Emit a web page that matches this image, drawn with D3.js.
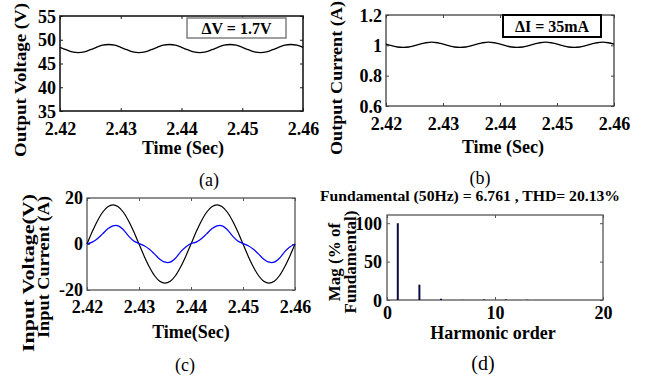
<!DOCTYPE html>
<html>
<head>
<meta charset="utf-8">
<script src="https://cdn.jsdelivr.net/npm/d3@7"></script>
<style>
  body { margin: 0; background: #fff; }
  svg { display: block; font-family: "Liberation Serif", "Times New Roman", serif; }
  svg text { font-family: "Liberation Serif", "Times New Roman", serif !important; }
</style>
</head>
<body>
<script>
// sample instants (s)
const sampleTimes = [
  2.420, 2.421, 2.422, 2.423, 2.424, 2.425, 2.426, 2.427, 2.428, 2.429,
  2.430, 2.431, 2.432, 2.433, 2.434, 2.435, 2.436, 2.437, 2.438, 2.439,
  2.440, 2.441, 2.442, 2.443, 2.444, 2.445, 2.446, 2.447, 2.448, 2.449,
  2.450, 2.451, 2.452, 2.453, 2.454, 2.455, 2.456, 2.457, 2.458, 2.459,
  2.460,
];

// (a) output voltage, V
const outputVoltage = [
  48.4, 47.9, 47.45, 47.3, 47.45, 47.9, 48.4, 48.85, 49.0, 48.85,
  48.4, 47.9, 47.45, 47.3, 47.45, 47.9, 48.4, 48.85, 49.0, 48.85,
  48.4, 47.9, 47.45, 47.3, 47.45, 47.9, 48.4, 48.85, 49.0, 48.85,
  48.4, 47.9, 47.45, 47.3, 47.45, 47.9, 48.4, 48.85, 49.0, 48.85,
  48.4,
];

// (b) output current, A
const outputCurrent = [
  1.008, 0.998, 0.989, 0.986, 0.989, 0.998, 1.008, 1.017, 1.021, 1.017,
  1.008, 0.998, 0.989, 0.986, 0.989, 0.998, 1.008, 1.017, 1.021, 1.017,
  1.008, 0.998, 0.989, 0.986, 0.989, 0.998, 1.008, 1.017, 1.021, 1.017,
  1.008, 0.998, 0.989, 0.986, 0.989, 0.998, 1.008, 1.017, 1.021, 1.017,
  1.008,
];

// (c) input voltage (black) and input current (blue)
const inputVoltage = [
  0, 5.3, 10.0, 13.8, 16.2, 17.0, 16.2, 13.8, 10.0, 5.3,
  0, -5.3, -10.0, -13.8, -16.2, -17.0, -16.2, -13.8, -10.0, -5.3,
  0, 5.3, 10.0, 13.8, 16.2, 17.0, 16.2, 13.8, 10.0, 5.3,
  0, -5.3, -10.0, -13.8, -16.2, -17.0, -16.2, -13.8, -10.0, -5.3,
  0,
];
const inputCurrent = [
  0, 0.8, 2.3, 4.4, 6.6, 7.9, 7.9, 6.2, 3.4, 1.3,
  0.2, -0.8, -2.3, -4.4, -6.6, -7.9, -7.9, -6.2, -3.4, -1.3,
  0.2, 0.8, 2.3, 4.4, 6.6, 7.9, 7.9, 6.2, 3.4, 1.3,
  0.2, -0.8, -2.3, -4.4, -6.6, -7.9, -7.9, -6.2, -3.4, -1.3,
  0,
];

// (d) harmonic spectrum, % of fundamental
const harmonicOrders = [1, 3, 5, 7, 9, 11, 13];
const harmonicMags = [100, 20, 1.5, 0.3, 0.8, 0.8, 0.4];

const timeTicks = [2.42, 2.43, 2.44, 2.45, 2.46];
const voltageTicks = [35, 40, 45, 50, 55];
const currentTicks = [0.6, 0.8, 1, 1.2];
const inputTicks = [-20, 0, 20];
const orderTicks = [0, 10, 20];
const magTicks = [0, 50, 100];

const width = 646;
const height = 378;
const fontBold = 18;
const serif = '"Liberation Serif", "Times New Roman", serif';

const svg = d3.select('body').append('svg')
  .attr('width', width)
  .attr('height', height)
  .attr('viewBox', [0, 0, width, height]);

const panel = (box, xDomain, yDomain, xTicks, yTicks, o) => {
  const x = d3.scaleLinear().domain(xDomain).range([box.x0, box.x1]);
  const y = d3.scaleLinear().domain(yDomain).range([box.y1, box.y0]);
  const g = svg.append('g');
  const fmtX = o.fmtX || d3.format('');
  const fmtY = o.fmtY || d3.format('');

  const styleAxis = (sel) => {
    sel.attr('font-family', serif).attr('font-size', fontBold);
    sel.select('.domain').remove();
    sel.selectAll('line').attr('stroke', o.stroke).attr('stroke-width', 1);
    sel.selectAll('text')
      .attr('fill', '#000')
      .attr('font-weight', 'bold')
      .style('font-family', serif);
  };

  g.append('g')
    .attr('transform', `translate(0,${box.y1})`)
    .call(d3.axisBottom(x).tickValues(xTicks).tickSizeInner(-3).tickSizeOuter(0).tickFormat(fmtX))
    .call(styleAxis)
    .call((s) => s.selectAll('text').attr('y', o.xLabelDy).attr('dy', null));
  g.append('g')
    .attr('transform', `translate(0,${box.y0})`)
    .call(d3.axisTop(x).tickValues(xTicks).tickSizeInner(-3).tickSizeOuter(0).tickFormat(''))
    .call(styleAxis);
  g.append('g')
    .attr('transform', `translate(${box.x0},0)`)
    .call(d3.axisLeft(y).tickValues(yTicks).tickSizeInner(-3).tickSizeOuter(0).tickFormat(fmtY))
    .call(styleAxis)
    .call((s) => s.selectAll('text').attr('x', -o.yLabelDx).attr('dy', o.yDy || '0.34em'));
  g.append('g')
    .attr('transform', `translate(${box.x1},0)`)
    .call(d3.axisRight(y).tickValues(yTicks).tickSizeInner(-3).tickSizeOuter(0).tickFormat(''))
    .call(styleAxis);

  g.append('rect')
    .attr('x', box.x0)
    .attr('y', box.y0)
    .attr('width', box.x1 - box.x0)
    .attr('height', box.y1 - box.y0)
    .attr('fill', 'none')
    .attr('stroke', o.stroke)
    .attr('stroke-width', o.strokeWidth);

  return { x, y, g };
};

const addText = (x, y, str, o = {}) => svg.append('text')
  .attr('transform', `translate(${x},${y})${o.rotate ? ' rotate(-90)' : ''}`)
  .attr('text-anchor', o.anchor || 'middle')
  .attr('font-size', o.size || fontBold)
  .attr('font-weight', o.weight || 'bold')
  .attr('fill', '#000')
  .attr('textLength', o.len || null)
  .attr('lengthAdjust', o.len ? 'spacingAndGlyphs' : null)
  .text(str);

const drawLine = (p, values, color, w) => {
  const line = d3.line()
    .x((d, i) => p.x(sampleTimes[i]))
    .y((d) => p.y(d))
    .curve(d3.curveCatmullRom);
  p.g.append('path')
    .attr('d', line(values))
    .attr('fill', 'none')
    .attr('stroke', color)
    .attr('stroke-width', w);
};

// (a)
const pa = panel({ x0: 60, x1: 303, y0: 16, y1: 111 }, [2.42, 2.46], [35, 55], timeTicks, voltageTicks,
  { stroke: '#1a1a1a', strokeWidth: 1.6, xLabelDy: 24, yLabelDx: 4, fmtX: d3.format('.2f') });
drawLine(pa, outputVoltage, '#000', 1.3);
pa.g.append('rect').attr('x', 187).attr('y', 18).attr('width', 99).attr('height', 20)
  .attr('fill', '#fff').attr('stroke', '#808080').attr('stroke-width', 1.5);
addText(236.5, 33.5, 'ΔV = 1.7V', { size: 16 });
addText(183, 154, 'Time (Sec)', { size: 18 });
addText(26, 80, 'Output Voltage (V)', { rotate: true, size: 17, len: 154 });
addText(209, 186, '(a)', { size: 18, weight: 'normal' });

// (b)
const pb = panel({ x0: 386, x1: 614, y0: 15, y1: 106 }, [2.42, 2.46], [0.6, 1.2], timeTicks, currentTicks,
  { stroke: '#404040', strokeWidth: 1.3, xLabelDy: 24, yLabelDx: 4, fmtX: d3.format('.2f') });
drawLine(pb, outputCurrent, '#000', 1.3);
pb.g.append('rect').attr('x', 503).attr('y', 15).attr('width', 98).attr('height', 22)
  .attr('fill', '#fff').attr('stroke', '#000').attr('stroke-width', 2);
addText(552, 31.5, 'ΔI = 35mA', { size: 16 });
addText(503, 153, 'Time (Sec)', { size: 18 });
addText(342, 78, 'Output Current (A)', { rotate: true, size: 17, len: 154 });
addText(480, 184, '(b)', { size: 18, weight: 'normal' });

// (c)
const pc = panel({ x0: 87, x1: 295, y0: 198, y1: 290 }, [2.42, 2.46], [-20, 20], timeTicks, inputTicks,
  { stroke: '#555', strokeWidth: 1.3, xLabelDy: 23, yLabelDx: 4, yDy: '0.28em', fmtX: d3.format('.2f'), fmtY: (d) => `${d}` });
drawLine(pc, inputVoltage, '#000', 1.2);
drawLine(pc, inputCurrent, '#0000ff', 1.2);
addText(191, 338, 'Time(Sec)', { size: 18 });
addText(34, 194, 'Input Voltage(V)', { rotate: true, anchor: 'end', size: 17, len: 158 });
addText(49, 196, 'Input Current (A)', { rotate: true, anchor: 'end', size: 17, len: 142 });
addText(185, 371, '(c)', { size: 18, weight: 'normal' });

// (d)
const pd = panel({ x0: 387, x1: 603, y0: 215, y1: 300 }, [0, 20], [0, 110.7], orderTicks, magTicks,
  { stroke: '#555', strokeWidth: 1.3, xLabelDy: 19, yLabelDx: 5 });
pd.g.append('g')
  .selectAll('line')
  .data(harmonicOrders)
  .join('line')
  .attr('x1', (d) => pd.x(d))
  .attr('x2', (d) => pd.x(d))
  .attr('y1', pd.y(0))
  .attr('y2', (d, i) => pd.y(harmonicMags[i]))
  .attr('stroke', '#0b0b4a')
  .attr('stroke-width', 2);
addText(470, 201, 'Fundamental (50Hz) = 6.761 , THD= 20.13%', { size: 14, len: 300 });
addText(493, 339, 'Harmonic order', { size: 18 });
addText(340, 262, 'Mag (% of', { rotate: true, size: 17 });
addText(356, 262, 'Fundamental)', { rotate: true, size: 17 });
addText(483, 370, '(d)', { size: 20, weight: 'normal' });
</script>
</body>
</html>
